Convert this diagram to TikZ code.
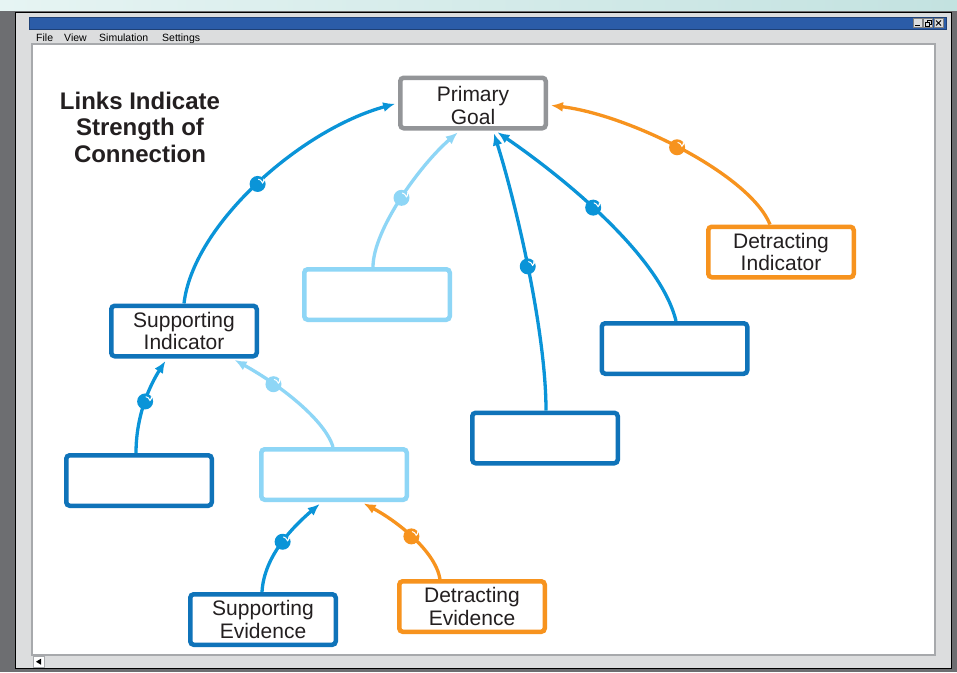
\documentclass[tikz,border=0pt]{standalone}
\usepackage{fontspec}
\setmainfont{Liberation Sans}
\usetikzlibrary{arrows.meta}

\definecolor{deskgray}{HTML}{6D6E71}
\definecolor{skyleft}{HTML}{E6F4F3}
\definecolor{skyright}{HTML}{C3E2E0}
\definecolor{winface}{HTML}{DCDDDE}
\definecolor{titleblue}{HTML}{2B5CA8}
\definecolor{canvasedge}{HTML}{A7A9AC}
\definecolor{boxblue}{HTML}{0F73B9}
\definecolor{linkblue}{HTML}{0A94D8}
\definecolor{paleblue}{HTML}{8ED6F6}
\definecolor{linkorange}{HTML}{F7931E}
\definecolor{goalgray}{HTML}{939598}
\definecolor{inkdark}{HTML}{231F20}

% taller first line, so the goal label sits a little lower in its box
\newcommand\cardstrut{\rule{0pt}{20pt}}

\begin{document}
\begin{tikzpicture}[x=1pt,y=-1pt,
  menu/.style={anchor=base west, inner sep=0, font=\fontsize{10.5pt}{12pt}\selectfont, text=black},
  heading/.style={align=center, inner sep=0, text=inkdark,
    font=\fontsize{24pt}{26.5pt}\selectfont\bfseries},
  card/.style={draw=#1, line width=4.5pt, rounded corners=3.5pt, fill=white,
    minimum width=145.5pt, minimum height=50.5pt, inner sep=0, align=center,
    text=inkdark, font=\fontsize{21pt}{22.5pt}\selectfont},
  link/.style={draw=#1, line width=3.3pt, shorten >=3pt,
    -{Latex[length=12pt,width=10pt]}},
  knob/.style={circle, fill=#1, draw=none, minimum size=16pt, inner sep=0,
    path picture={\draw[white, line width=1pt, line cap=round]
      ([shift={(80:4.8pt)}]path picture bounding box.center)
      arc[start angle=80, end angle=-20, radius=4.8pt];}},
  winbtn/.style={fill=winface, draw=gray, line width=0.6pt}
]
\useasboundingbox (0,0) rectangle (957,672);

% desktop and window chrome
\fill[deskgray] (0,0) rectangle (957,672);
\shade[left color=skyleft, right color=skyright] (0,0) rectangle (957,10);
\draw[fill=winface, draw=black, line width=1.5pt] (15.5,12.5) rectangle (951.5,668.5);
\draw[fill=titleblue, draw=titleblue!70!black, line width=0.8pt] (29,17) rectangle (946,29);

% minimize / restore / close buttons
\draw[winbtn] (913,18.5) rectangle (922,27.5);
\draw[black, line width=1.6pt] (915,25.5) -- (920,25.5);
\draw[winbtn] (923.5,18.5) rectangle (932.5,27.5);
\draw[black, line width=0.9pt] (927,20.5) rectangle (931,24);
\draw[black, fill=winface, line width=0.9pt] (925,22.5) rectangle (929,26);
\draw[winbtn] (934,18.5) rectangle (943,27.5);
\draw[black, line width=0.9pt] (936,20.5) -- (941,25.5) (941,20.5) -- (936,25.5);

% menu bar
\node[menu] (mfile) at (36,41) {File};
\node[menu] (mview) at (64,41) {View};
\node[menu] (msim) at (99,41) {Simulation};
\node[menu] (mset) at (162,41) {Settings};

% drawing canvas and scroll button
\draw[fill=white, draw=canvasedge, line width=2pt] (32,44) rectangle (935,655);
\draw[fill=white, draw=canvasedge, line width=0.6pt] (33,656.5) rectangle (44,667);
\fill[black] (36,661.7) -- (41,658.7) -- (41,664.7) -- cycle;

% heading
\node[heading] (title) at (140,127) {Links Indicate\\Strength of\\Connection};

% boxes
\node[card=goalgray]   (goal) at (473,103)   {\cardstrut Primary\\Goal};
\node[card=linkorange] (detind) at (781,252) {Detracting\\Indicator};
\node[card=paleblue]   (paleA) at (377,294.5) {};
\node[card=boxblue]    (supind) at (184,331) {Supporting\\Indicator};
\node[card=boxblue]    (blankR) at (674.5,348.5) {};
\node[card=boxblue]    (blankM) at (545,438) {};
\node[card=boxblue]    (blankL) at (139,480.5) {};
\node[card=paleblue]   (paleB) at (334,474.5) {};
\node[card=boxblue]    (supev) at (263,619.5) {Supporting\\Evidence};
\node[card=linkorange] (detev) at (472,606.5) {Detracting\\Evidence};

% links into the primary goal
\draw[link=linkblue] (supind.north) .. controls (193,225) and (300,130) .. (goal.west)
  node[knob=linkblue, pos=0.5] {};
\draw[link=paleblue] ([xshift=-4pt]paleA.north) .. controls (373,230) and (420,165) .. ([xshift=-13pt]goal.south)
  node[knob=paleblue, pos=0.5] {};
\draw[link=linkblue] ([xshift=1pt]blankM.north) .. controls (546,330) and (515,200) .. ([xshift=20pt]goal.south)
  node[knob=linkblue, pos=0.5] {};
\draw[link=linkblue] ([xshift=1.5pt]blankR.north) .. controls (660,255) and (560,175) .. ([xshift=22pt]goal.south)
  node[knob=linkblue, pos=0.55] {};
\draw[link=linkorange] ([xshift=-11pt]detind.north) .. controls (750,175) and (630,115) .. ([yshift=-2pt]goal.east)
  node[knob=linkorange, pos=0.52] {};

% links into the supporting indicator
\draw[link=linkblue] ([xshift=-3pt]blankL.north) .. controls (136,415) and (150,385) .. ([xshift=-17pt]supind.south)
  node[knob=linkblue, pos=0.5] {};
\draw[link=paleblue] ([xshift=-1pt]paleB.north) .. controls (325,420) and (280,385) .. ([xshift=48pt]supind.south)
  node[knob=paleblue, pos=0.7] {};

% evidence links
\draw[link=linkblue] ([xshift=-1pt]supev.north) .. controls (264,555) and (295,525) .. ([xshift=-12pt]paleB.south)
  node[knob=linkblue, pos=0.5] {};
\draw[link=linkorange] ([xshift=-32pt]detev.north) .. controls (435,550) and (395,520) .. ([xshift=27pt]paleB.south)
  node[knob=linkorange, pos=0.5] {};
\end{tikzpicture}
\end{document}
